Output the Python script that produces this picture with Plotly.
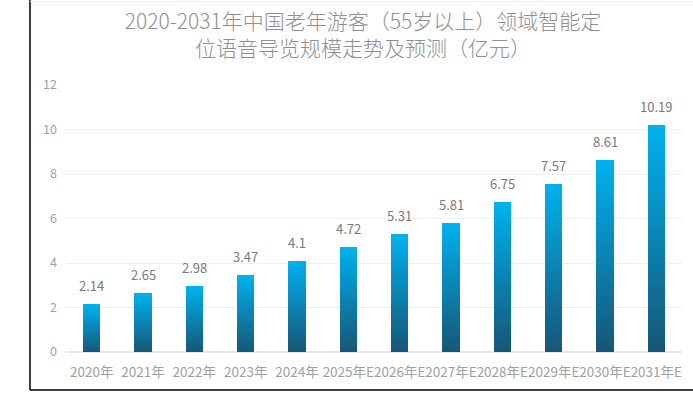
import plotly.graph_objects as go

categories = ["2020年", "2021年", "2022年", "2023年", "2024年", "2025年E",
              "2026年E", "2027年E", "2028年E", "2029年E", "2030年E", "2031年E"]
values = [2.14, 2.65, 2.98, 3.47, 4.1, 4.72, 5.31, 5.81, 6.75, 7.57, 8.61, 10.19]
labels = ["2.14", "2.65", "2.98", "3.47", "4.1", "4.72", "5.31", "5.81", "6.75", "7.57", "8.61", "10.19"]
title_text = "2020-2031年中国老年游客（55岁以上）领域智能定<br>位语音导览规模走势及预测（亿元）"

FONT = "Noto Sans CJK SC"
N = 40
bottom_rgb = (22, 86, 118)
top_rgb = (0, 178, 240)

fig = go.Figure()
for i in range(N):
    t = (i + 0.5) / N
    c = tuple(round(b + (tp - b) * t) for b, tp in zip(bottom_rgb, top_rgb))
    fig.add_trace(go.Bar(
        x=categories,
        y=[v / N for v in values],
        marker=dict(color="rgb(%d,%d,%d)" % c, line=dict(width=0)),
        hoverinfo="skip",
        showlegend=False,
    ))

for cat, v, lab in zip(categories, values, labels):
    fig.add_annotation(x=cat, y=v, text=lab, showarrow=False,
                       yanchor="bottom", yshift=7,
                       font=dict(family=FONT, size=13, color="#7a7a7a"))

L, R, T, B = 66, 11, 85, 42
W, H = 693, 394
pw, ph = W - L - R, H - T - B

def px_x(px):
    return (px - L) / pw

def px_y(py):
    return (H - B - py) / ph

fig.update_layout(
    width=W, height=H,
    margin=dict(l=L, r=R, t=T, b=B),
    paper_bgcolor="white", plot_bgcolor="white",
    barmode="stack", bargap=0.66,
    title=dict(text=title_text, x=363 / W, xanchor="center", xref="container",
               y=1 - 29 / H, yanchor="middle", yref="container",
               font=dict(family=FONT, size=21, color="#8f8f8f", weight=300)),
    xaxis=dict(showgrid=False, showline=False, ticks="", tickangle=0,
               ticklabelstandoff=10,
               tickfont=dict(family=FONT, size=13.5, color="#a0a0a0")),
    yaxis=dict(range=[0, 12], dtick=2, showgrid=True, gridcolor="#efefef",
               zeroline=True, zerolinecolor="#e6e6e6", showline=False, ticks="",
               ticklabelstandoff=8,
               tickfont=dict(family=FONT, size=12.5, color="#a0a0a0")),
    shapes=[
        dict(type="line", xref="paper", yref="paper", x0=px_x(30), x1=px_x(30),
             y0=px_y(390), y1=px_y(0), line=dict(color="black", width=1.5)),
        dict(type="line", xref="paper", yref="paper", x0=px_x(30), x1=px_x(693),
             y0=px_y(390), y1=px_y(390), line=dict(color="black", width=1.5)),
        dict(type="line", xref="paper", yref="paper", x0=px_x(30), x1=px_x(693),
             y0=px_y(1.5), y1=px_y(1.5), line=dict(color="#eeeeee", width=1)),
    ],
)

fig.write_html("out.html", config={"displayModeBar": False},
               post_script="document.body.style.margin='0';document.body.style.padding='0';")
